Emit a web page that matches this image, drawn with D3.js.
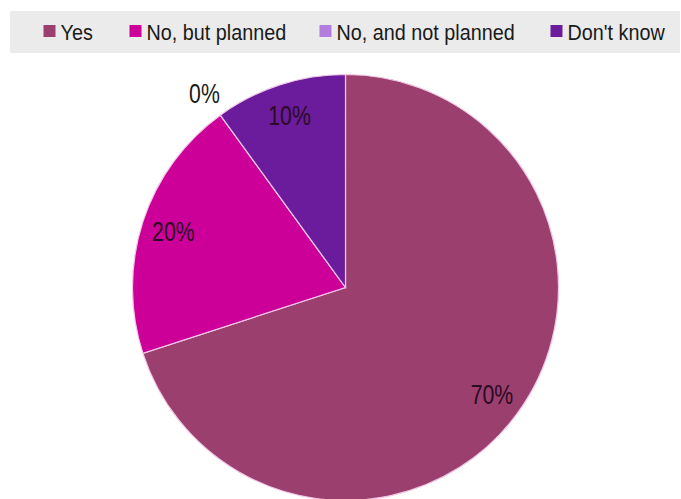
<!DOCTYPE html>
<html>
<head>
<meta charset="utf-8">
<script src="https://cdn.jsdelivr.net/npm/d3@7"></script>
<style>
  body { margin: 0; background: #fff; }
  svg { display: block; font-family: "Liberation Sans", Arial, sans-serif; }
</style>
</head>
<body>
<div class="canvas"></div>
<script>
// chart data
const categories = ['Yes', 'No, but planned', 'No, and not planned', "Don't know"];
const shares = [70, 20, 0, 10];
const colours = ['#9b3f6f', '#cc0099', '#b27ddd', '#6b1c9c'];

const width = 681, height = 499;

const svg = d3.select('.canvas').append('svg')
    .attr('width', width)
    .attr('height', height);

// legend strip at the top
svg.append('rect')
    .attr('x', 10).attr('y', 11)
    .attr('width', 670).attr('height', 42)
    .attr('fill', '#ebebeb');

const legendX = [43.5, 129.5, 319.5, 550.5];
const legend = svg.selectAll('.legend')
    .data(categories)
    .join('g')
    .attr('class', 'legend')
    .attr('transform', (d, i) => `translate(${legendX[i]}, 31)`);

legend.append('rect')
    .attr('x', 0).attr('y', -6)
    .attr('width', 12).attr('height', 12)
    .attr('fill', (d, i) => colours[i]);

// the source picture is a bit squeezed sideways, so the text is too
legend.append('text')
    .attr('transform', 'translate(17, 9) scale(0.9, 1)')
    .attr('font-size', 22)
    .attr('fill', '#1a1a1a')
    .text(d => d);

// pie
const cx = 345.5, cy = 287.5, radius = 213;
const pie = d3.pie().sort(null).value(d => d)(shares);
const arc = d3.arc().innerRadius(0).outerRadius(radius);
const labelArc = d3.arc().innerRadius(181).outerRadius(181);
const outerArc = d3.arc().innerRadius(240).outerRadius(240);

const g = svg.append('g').attr('transform', `translate(${cx}, ${cy})`);

g.selectAll('path')
    .data(pie)
    .join('path')
    .attr('d', arc)
    .attr('fill', (d, i) => colours[i])
    .attr('stroke', '#f2c6e6')
    .attr('stroke-width', 1.2);

g.selectAll('.lbl')
    .data(pie)
    .join('text')
    .attr('class', 'lbl')
    .attr('transform', d => {
        const p = d.value === 0 ? outerArc.centroid(d) : labelArc.centroid(d);
        return `translate(${p}) scale(0.76, 1)`;
    })
    .attr('text-anchor', 'middle')
    .attr('dy', '0.35em')
    .attr('font-size', 28)
    .attr('fill', d => d.value === 0 ? '#1a1a1a' : '#2a0a24')
    .text(d => d.value + '%');
</script>
</body>
</html>
